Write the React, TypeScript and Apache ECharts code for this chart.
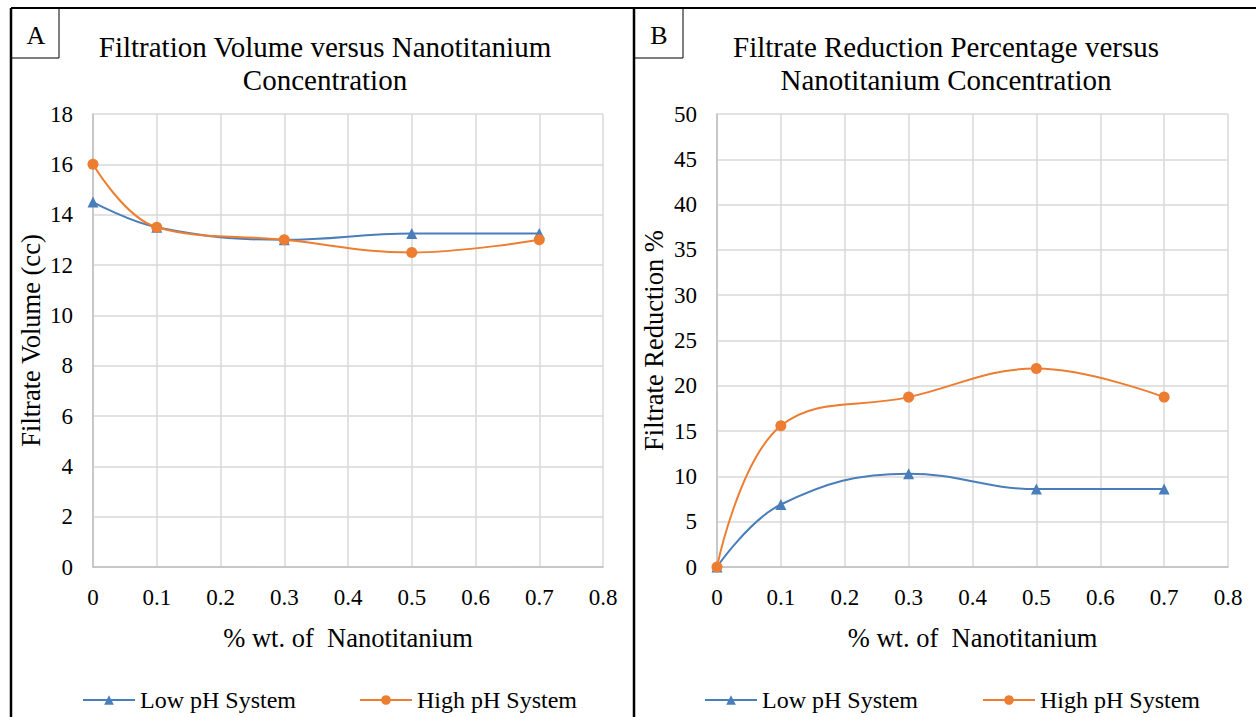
import React, { useEffect, useRef } from "react";
import * as echarts from "echarts";

const concentrations = [0, 0.1, 0.3, 0.5, 0.7];
const volumeLowPH = [14.5, 13.5, 13.0, 13.25, 13.25];
const volumeHighPH = [16, 13.5, 13.0, 12.5, 13.0];
const reductionLowPH = [0, 6.9, 10.3, 8.6, 8.6];
const reductionHighPH = [0, 15.6, 18.75, 21.9, 18.75];

const seriesNames = ["Low pH System", "High pH System"];
const titleA = "Filtration Volume versus Nanotitanium\nConcentration";
const titleB = "Filtrate Reduction Percentage versus\nNanotitanium Concentration";
const xName = "% wt. of  Nanotitanium";
const yNameA = "Filtrate Volume (cc)";
const yNameB = "Filtrate Reduction %";

const BLUE = "#4A7EBB";
const ORANGE = "#ED7D31";
const FONT = "Liberation Serif";

const pair = (xs: number[], ys: number[]) => xs.map((x, i) => [x, ys[i]]);

export default function App() {
  const ref = useRef<HTMLDivElement>(null);
  useEffect(() => {
    if (!ref.current) return;
    const chart = echarts.init(ref.current, null, { renderer: "svg" });
    const xAxisBase = {
      type: "value",
      min: 0,
      max: 0.8,
      interval: 0.1,
      name: xName,
      nameLocation: "middle",
      nameGap: 57,
      nameTextStyle: { fontFamily: FONT, fontSize: 26.5, color: "#000" },
      axisLine: { show: true, lineStyle: { color: "#bfbfbf", width: 1.5 } },
      axisTick: { show: false },
      axisLabel: {
        fontFamily: FONT,
        fontSize: 23,
        color: "#000",
        margin: 19,
        formatter: (v: number) => String(Math.round(v * 10) / 10),
      },
      splitLine: { show: true, lineStyle: { color: "#d9d9d9", width: 1.5 } },
    };
    const yAxisBase = {
      type: "value",
      nameLocation: "middle",
      nameTextStyle: { fontFamily: FONT, fontSize: 26.5, color: "#000" },
      axisLine: { show: true, lineStyle: { color: "#bfbfbf", width: 1.5 } },
      axisTick: { show: false },
      axisLabel: { fontFamily: FONT, fontSize: 23, color: "#000", margin: 20 },
      splitLine: { show: true, lineStyle: { color: "#d9d9d9", width: 1.5 } },
    };
    const lineSeries = (name: string, color: string, symbol: string, xi: number, data: number[][]) => ({
      type: "line",
      name,
      xAxisIndex: xi,
      yAxisIndex: xi,
      data,
      smooth: 0.4,
      symbol,
      symbolSize: 11,
      lineStyle: { color, width: 2 },
      itemStyle: { color },
      z: name === "High pH System" ? 3 : 2,
    });
    const legendBase = {
      orient: "horizontal",
      itemWidth: 52,
      itemHeight: 12,
      textStyle: { fontFamily: FONT, fontSize: 24, color: "#000" },
      data: seriesNames,
      selectedMode: false,
      top: 683,
    };
    chart.setOption({
      animation: false,
      backgroundColor: "#fff",
      grid: [
        { left: 93, top: 114, width: 510, height: 453 },
        { left: 717, top: 114, width: 511, height: 453 },
      ],
      xAxis: [
        { ...xAxisBase, gridIndex: 0 },
        { ...xAxisBase, gridIndex: 1 },
      ],
      yAxis: [
        { ...yAxisBase, gridIndex: 0, min: 0, max: 18, interval: 2, name: yNameA, nameGap: 49 },
        { ...yAxisBase, gridIndex: 1, min: 0, max: 50, interval: 5, name: yNameB, nameGap: 50 },
      ],
      legend: [
        { ...legendBase, left: 77, itemGap: 63 },
        { ...legendBase, left: 699, itemGap: 64 },
      ],
      series: [
        lineSeries(seriesNames[0], BLUE, "triangle", 0, pair(concentrations, volumeLowPH)),
        lineSeries(seriesNames[1], ORANGE, "circle", 0, pair(concentrations, volumeHighPH)),
        lineSeries(seriesNames[0], BLUE, "triangle", 1, pair(concentrations, reductionLowPH)),
        lineSeries(seriesNames[1], ORANGE, "circle", 1, pair(concentrations, reductionHighPH)),
      ],
      graphic: [
        { type: "line", shape: { x1: 11, y1: 8, x2: 1256, y2: 8 }, style: { stroke: "#000", lineWidth: 2 } },
        { type: "line", shape: { x1: 11, y1: 8, x2: 11, y2: 717 }, style: { stroke: "#000", lineWidth: 2.5 } },
        { type: "line", shape: { x1: 634, y1: 8, x2: 634, y2: 717 }, style: { stroke: "#000", lineWidth: 2.5 } },
        { type: "rect", shape: { x: 11, y: 8, width: 48, height: 50 }, style: { stroke: "#000", fill: "none", lineWidth: 1 } },
        { type: "rect", shape: { x: 634, y: 8, width: 49, height: 50 }, style: { stroke: "#000", fill: "none", lineWidth: 1 } },
        { type: "text", x: 36, y: 35, style: { text: "A", fontFamily: FONT, fontSize: 26, fill: "#000", textAlign: "center", textVerticalAlign: "middle" } },
        { type: "text", x: 659, y: 35, style: { text: "B", fontFamily: FONT, fontSize: 26, fill: "#000", textAlign: "center", textVerticalAlign: "middle" } },
        { type: "text", x: 325, y: 63, style: { text: titleA, fontFamily: FONT, fontSize: 29, lineHeight: 33, fill: "#000", textAlign: "center", textVerticalAlign: "middle" } },
        { type: "text", x: 946, y: 63, style: { text: titleB, fontFamily: FONT, fontSize: 29, lineHeight: 33, fill: "#000", textAlign: "center", textVerticalAlign: "middle" } },
      ],
    });
    return () => chart.dispose();
  }, []);
  return <div ref={ref} style={{ position: "absolute", left: 0, top: 0, width: 1256, height: 717 }} />;
}
